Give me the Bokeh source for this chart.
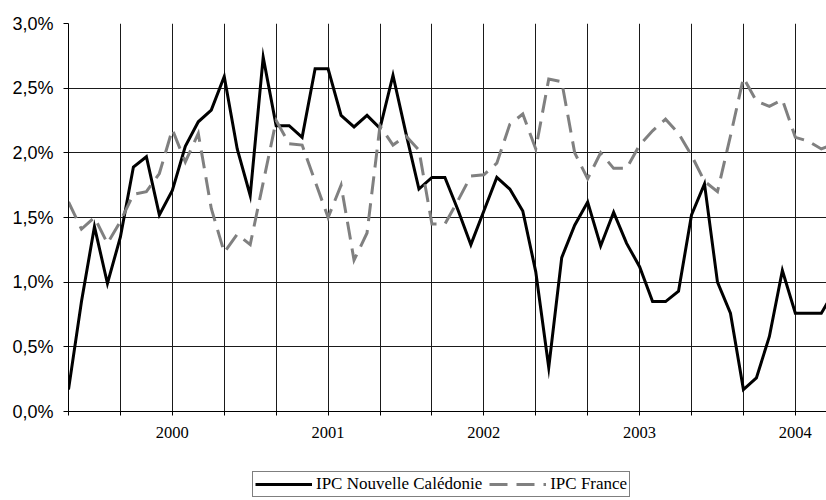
from bokeh.plotting import figure
from bokeh.models import FixedTicker, Legend, LegendItem, Range1d
from bokeh.layouts import column
from bokeh.embed import file_html
from bokeh.resources import INLINE

# months since May 1999 (0 = 1999-05)
months = list(range(60))

ipc_nc = [0.17, 0.85, 1.43, 0.99, 1.35, 1.89, 1.97, 1.52, 1.71, 2.05,
          2.24, 2.33, 2.59, 2.03, 1.67, 2.74, 2.21, 2.21, 2.12, 2.65,
          2.65, 2.29, 2.20, 2.29, 2.19, 2.60, 2.15, 1.72, 1.81, 1.81,
          1.56, 1.29, 1.55, 1.81, 1.72, 1.55, 1.08, 0.34, 1.19, 1.44,
          1.62, 1.28, 1.54, 1.30, 1.12, 0.85, 0.85, 0.93, 1.52, 1.76,
          1.00, 0.76, 0.17, 0.26, 0.58, 1.09, 0.76, 0.76, 0.76, 0.93]

ipc_fr = [1.62, 1.41, 1.50, 1.30, 1.47, 1.68, 1.70, 1.84, 2.18, 1.93,
          2.15, 1.57, 1.23, 1.37, 1.29, 1.77, 2.25, 2.07, 2.06, 1.78,
          1.50, 1.75, 1.17, 1.38, 2.21, 2.06, 2.13, 2.02, 1.45, 1.45,
          1.63, 1.82, 1.83, 1.92, 2.22, 2.30, 2.03, 2.57, 2.55, 2.00,
          1.80, 2.00, 1.88, 1.88, 2.06, 2.17, 2.26, 2.15, 1.98, 1.78,
          1.70, 2.13, 2.58, 2.40, 2.36, 2.41, 2.12, 2.09, 2.03, 2.07]

year_labels = ["2000", "2001", "2002", "2003", "2004"]
year_pos = [8, 20, 32, 44, 56]
grid_x = list(range(0, 60, 4))

y_ticks = [0.0, 0.5, 1.0, 1.5, 2.0, 2.5, 3.0]
y_tick_labels = ["0,0%", "0,5%", "1,0%", "1,5%", "2,0%", "2,5%", "3,0%"]

series_names = ["IPC Nouvelle Calédonie", "IPC France"]
nc_style = dict(line_color="black", line_width=3, line_join="miter")
fr_style = dict(line_color="#808080", line_width=3, line_dash="18 9", line_join="miter")

p = figure(width=826, height=441, output_backend="svg", toolbar_location=None,
           x_range=Range1d(0, 58.4), y_range=Range1d(0, 3),
           min_border_left=68, min_border_right=0, min_border_top=23,
           min_border_bottom=30)
p.outline_line_color = None
p.background_fill_color = "white"
p.border_fill_color = "white"

# axes
p.xaxis.ticker = FixedTicker(ticks=grid_x)
x_over = {t: "" for t in grid_x}
for t, lab in zip(year_pos, year_labels):
    x_over[t] = lab
p.xaxis.major_label_overrides = x_over
p.xaxis.major_tick_out = 4
p.xaxis.major_tick_in = 0
p.xaxis.minor_tick_line_color = None
p.xaxis.axis_line_color = "black"
p.xaxis.major_tick_line_color = "black"
p.xaxis.major_label_text_font = "Liberation Serif"
p.xaxis.major_label_text_font_size = "16.5px"
p.xaxis.major_label_text_color = "black"
p.xaxis.major_label_standoff = 11

p.yaxis.ticker = FixedTicker(ticks=y_ticks)
p.yaxis.major_label_overrides = {t: lab for t, lab in zip(y_ticks, y_tick_labels)}
p.yaxis.major_tick_out = 5
p.yaxis.major_tick_in = 0
p.yaxis.minor_tick_line_color = None
p.yaxis.axis_line_color = "black"
p.yaxis.major_tick_line_color = "black"
p.yaxis.major_label_text_font = "Liberation Sans"
p.yaxis.major_label_text_font_size = "18px"
p.yaxis.major_label_text_color = "black"
p.yaxis.major_label_standoff = 10

p.xgrid.grid_line_color = "#1a1a1a"
p.ygrid.grid_line_color = "#1a1a1a"
p.xgrid.grid_line_width = 1
p.ygrid.grid_line_width = 1

p.line(months, ipc_nc, **nc_style)
p.line(months, ipc_fr, **fr_style)

# legend strip below the chart (its series are drawn outside its visible range)
pl = figure(width=826, height=59, output_backend="svg", toolbar_location=None,
            x_range=Range1d(0, 1), y_range=Range1d(0, 1),
            min_border=0, x_axis_type=None, y_axis_type=None)
pl.outline_line_color = None
pl.grid.visible = False
pl.background_fill_color = "white"
pl.border_fill_color = "white"
l_nc = pl.line(months[:2], ipc_nc[:2], **nc_style)
l_fr = pl.line(months[:2], ipc_fr[:2], **fr_style)
l_nc.visible = True
pl.x_range.start, pl.x_range.end = -10, -9

legend = Legend(items=[LegendItem(label=series_names[0], renderers=[l_nc]),
                       LegendItem(label=series_names[1], renderers=[l_fr])],
                location=(184, 3), orientation="horizontal")
legend.label_text_font = "Liberation Serif"
legend.label_text_font_size = "17px"
legend.label_text_color = "black"
legend.glyph_width = 57
legend.glyph_height = 16
legend.label_height = 16
legend.label_standoff = 4
legend.spacing = 7
legend.padding = 2
legend.margin = 0
legend.border_line_color = "black"
legend.border_line_width = 1
legend.background_fill_color = "white"
legend.background_fill_alpha = 1
pl.add_layout(legend)

open("out.html", "w").write(file_html(column(p, pl, spacing=0), INLINE))
